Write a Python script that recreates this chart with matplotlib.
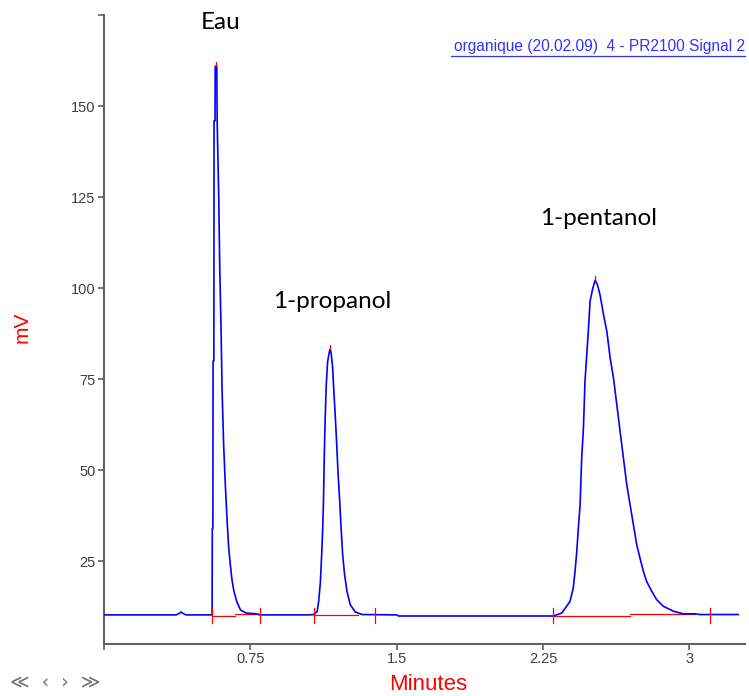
import numpy as np
import matplotlib
matplotlib.use('Agg')
import matplotlib.pyplot as plt
from matplotlib.lines import Line2D

# ---- chromatogram trace (minutes, mV) -------------------------------------
base_t = [0.0, 0.37, 0.385, 0.395, 0.405, 0.42, 0.54]
base_mv = [10.2, 10.2, 10.6, 11.0, 10.6, 10.2, 10.2]

eau_t = [0.550, 0.554, 0.555, 0.558, 0.559, 0.563, 0.564, 0.569, 0.570, 0.578,
         0.580, 0.588, 0.593, 0.600, 0.605, 0.613, 0.622, 0.631, 0.639, 0.648,
         0.656, 0.665, 0.680, 0.700, 0.730, 0.780, 0.800]
eau_mv = [10.2, 10.5, 34.0, 34.0, 80.0, 80.0, 146.0, 146.0, 161.0, 161.0,
          145.8, 125.2, 106.1, 88.4, 72.3, 57.1, 45.8, 36.0, 28.6, 23.7,
          19.8, 16.9, 13.9, 11.5, 10.7, 10.5, 10.2]

prop_t = [1.050, 1.074, 1.092, 1.100, 1.109, 1.117, 1.122, 1.125, 1.129, 1.134,
          1.139, 1.146, 1.155, 1.160, 1.165, 1.172, 1.177, 1.184, 1.191, 1.199,
          1.208, 1.215, 1.223, 1.233, 1.245, 1.262, 1.288, 1.322, 1.50, 1.51]
prop_mv = [10.2, 10.3, 11.1, 13.8, 19.3, 28.5, 35.8, 42.2, 54.1, 65.1,
           73.4, 79.8, 82.6, 83.2, 81.8, 78.0, 72.5, 66.1, 58.8, 49.7,
           41.4, 34.1, 26.8, 21.3, 16.7, 13.0, 11.0, 10.3, 10.2, 9.9]

pent_t = [2.303, 2.346, 2.371, 2.388, 2.405, 2.414, 2.423, 2.431, 2.440, 2.448,
          2.457, 2.465, 2.474, 2.482, 2.491, 2.505, 2.517, 2.529, 2.542, 2.560,
          2.577, 2.594, 2.611, 2.628, 2.645, 2.662, 2.679, 2.696, 2.713, 2.730,
          2.747, 2.764, 2.781, 2.807, 2.832, 2.866, 2.918, 2.969, 3.029, 3.054,
          3.250]
pent_mv = [9.9, 10.7, 12.6, 13.9, 17.6, 22.2, 27.7, 34.1, 40.5, 53.3,
           61.6, 74.4, 81.7, 88.1, 96.4, 100.0, 102.2, 100.9, 98.2, 92.7,
           88.1, 80.8, 75.3, 68.0, 60.6, 53.3, 46.0, 40.5, 35.0, 29.5,
           25.8, 22.2, 19.4, 16.7, 14.4, 12.6, 11.2, 10.5, 10.5, 10.3,
           10.3]

# integration baselines (start, end, level) and start/end marks
int_segments = [(0.554, 0.673, 10.0), (0.673, 0.800, 10.5),
                (1.074, 1.300, 10.1),
                (2.303, 2.696, 9.9), (2.696, 3.030, 10.4)]
int_marks = [0.554, 0.800, 1.074, 1.390, 2.303, 3.105]
apex_t = [0.574, 1.160, 2.517]
apex_mv = [161.0, 83.2, 102.2]

peak_names = ['Eau', '1-propanol', '1-pentanol']
label_t = [0.597, 1.170, 2.532]
label_mv = [173.1, 96.4, 119.2]

x_ticks = [0, 0.75, 1.5, 2.25, 3]
x_labels = ['', '0.75', '1.5', '2.25', '3']
y_ticks = [25, 50, 75, 100, 125, 150, 175]
y_labels = ['25', '50', '75', '100', '125', '150', '']

time = np.array(base_t + eau_t + prop_t + pent_t)
signal = np.array(base_mv + eau_mv + prop_mv + pent_mv)

fig = plt.figure(figsize=(7.49, 6.96), dpi=100)
ax = fig.add_axes([104 / 749, 52 / 696, 641 / 749, 629 / 696])

ax.plot(time, signal, color='#0000ff', lw=1.2, zorder=3)

for t0, t1, lev in int_segments:
    ax.plot([t0, t1], [lev, lev], color='#ff0000', lw=0.9, zorder=2)
for t in int_marks:
    ax.plot([t, t], [8.0, 12.2], color='#ff0000', lw=0.9, zorder=4)
for t, v in zip(apex_t, apex_mv):
    ax.plot([t, t], [v, v + 1.2], color='#ff0000', lw=0.9, zorder=4)

for name, t, v in zip(peak_names, label_t, label_mv):
    ax.text(t, v, name, ha='center', va='center', fontsize=17.5,
            family='Lato', color='black')

ax.set_xlim(0, 3.285)
ax.set_ylim(2.2, 175.1)
ax.set_xticks(x_ticks)
ax.set_xticklabels(x_labels)
ax.set_yticks(y_ticks)
ax.set_yticklabels(y_labels)

for s in ['top', 'right']:
    ax.spines[s].set_visible(False)
for s in ['left', 'bottom']:
    ax.spines[s].set_color('#606060')
    ax.spines[s].set_linewidth(1.5)

ax.tick_params(axis='both', which='major', direction='out', length=4,
               width=1.2, color='#606060', labelsize=10.5, labelcolor='#404040',
               pad=2)
for lab in ax.get_xticklabels() + ax.get_yticklabels():
    lab.set_family('Liberation Sans')

# axis titles placed in figure pixels
fig.text(428 / 749, 1 - 685 / 696, 'Minutes', ha='center', va='center',
         color='#ff0000', fontsize=16, family='Liberation Sans')
fig.text(22 / 749, 1 - 327 / 696, 'mV', ha='center', va='center',
         rotation=90, color='#ff0000', fontsize=15, family='Liberation Sans')

# signal caption with underline
fig.text(745 / 749, 1 - 46 / 696, 'organique (20.02.09)  4 - PR2100 Signal 2',
         ha='right', va='center', color='#3333ff', fontsize=11.2,
         family='Liberation Sans')
fig.add_artist(Line2D([451 / 749, 745 / 749], [1 - 56 / 696, 1 - 56 / 696],
                      color='#3333ff', lw=0.9, transform=fig.transFigure))

# navigation arrows
fig.text(10 / 749, 1 - 683 / 696, '\u226a  \u2039  \u203a  \u226b', ha='left',
         va='center', color='#707070', fontsize=13.5, family='DejaVu Sans')

fig.savefig('out.png', dpi=100)
